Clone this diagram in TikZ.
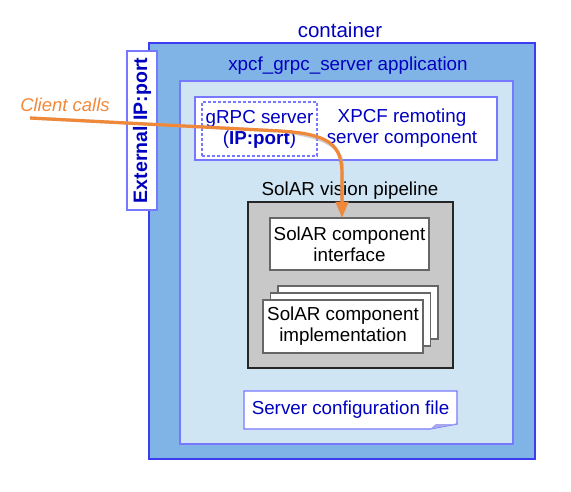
\documentclass[tikz,border=0pt]{standalone}
\usepackage{fontspec}
\setmainfont{Liberation Sans}
\usetikzlibrary{arrows.meta}
\definecolor{contfill}{HTML}{80B4E6}
\definecolor{contline}{HTML}{3C3CF0}
\definecolor{appfill}{HTML}{CFE5F4}
\definecolor{appline}{HTML}{7878FF}
\definecolor{dblue}{HTML}{0000C0}
\definecolor{pipefill}{HTML}{C8C8C8}
\definecolor{orng}{HTML}{F0883A}
\definecolor{foldc}{HTML}{A8A8F0}
\tikzset{
  base/.style={inner sep=0pt, outer sep=0pt, align=center, font=\fontsize{18.8}{21}\selectfont},
  contbox/.style={base, draw=contline, fill=contfill, line width=1.1pt},
  appbox/.style={base, draw=appline, fill=appfill, line width=1.6pt},
  whitebox/.style={base, draw=appline, fill=white, line width=1.3pt, text=dblue},
  dashbox/.style={base, draw=appline, dash pattern=on 3pt off 2pt, line width=1.4pt, text=dblue},
  pipebox/.style={base, draw=black!85, fill=pipefill, line width=1.2pt},
  compbox/.style={base, draw=black!60, fill=white, line width=1.2pt},
  title/.style={base, text=dblue},
  calls/.style={draw=orng, line width=3.2pt, -{Triangle[length=16pt,width=12pt]}},
  callshadow/.style={draw=black!30, opacity=0.6, line width=3.2pt, -{Triangle[length=16pt,width=12pt]}},
}
\begin{document}
\begin{tikzpicture}[x=1pt,y=-1pt]
\useasboundingbox (0,0) rectangle (571,492);
% container
\node[contbox, minimum width=386pt, minimum height=416pt] (cont) at (342,251) {};
\node[title, font=\fontsize{20.5}{24}\selectfont] (contlbl) at (340,30) {container};
% application
\node[appbox, minimum width=333pt, minimum height=363pt] (app) at (346.5,262.5) {};
\node[title] (applbl) at (348,66) {xpcf\_grpc\_server application};
% external IP:port
\node[whitebox, rotate=90, minimum width=159pt, minimum height=30pt, font=\bfseries\fontsize{19.5}{21}\selectfont] (ext) at (142,130.5) {External IP:port};
% XPCF remoting
\node[whitebox, minimum width=302pt, minimum height=63pt] (xpcf) at (346,128.5) {};
\node[title] (xpcflbl) at (402,128) {XPCF remoting\\server component};
\node[dashbox, minimum width=115pt, minimum height=54pt] (grpc) at (259.5,129) {gRPC server\\(\textbf{IP:port})};
% pipeline
\node[base] (pipelbl) at (350,191) {SolAR vision pipeline};
\node[pipebox, minimum width=205pt, minimum height=166pt] (pipe) at (350.5,285) {};
\node[compbox, minimum width=159pt, minimum height=52pt] (ifc) at (349.5,244) {SolAR component\\interface};
\node[compbox, minimum width=160pt, minimum height=53pt] (impl3) at (358,312.5) {};
\node[compbox, minimum width=160pt, minimum height=53pt] (impl2) at (350.5,319.5) {};
\node[compbox, minimum width=160pt, minimum height=53pt] (impl) at (343,326.5) {SolAR component\\implementation};
% config file
\node[base, minimum width=213pt, minimum height=38pt, text=dblue] (cfg) at (350.5,410) {};
\draw[draw=appline, fill=white, line width=1.2pt] (cfg.north west) -- (cfg.north east) -- ([yshift=5pt]cfg.south east) -- ([xshift=-27pt]cfg.south east) -- (cfg.south west) -- cycle;
\fill[foldc] ([xshift=-27pt]cfg.south east) -- ([xshift=-21pt,yshift=5pt]cfg.south east) -- ([yshift=5pt]cfg.south east) -- cycle;
\node[title] (cfglbl) at (cfg.center) {Server configuration file};
% client calls
\node[base, text=orng, font=\itshape\fontsize{18.5}{21}\selectfont] (callslbl) at (65,105) {Client calls};
\coordinate (cstart) at (30,118);
\coordinate (cmid) at (280,131);
\coordinate (cbend) at (342,175);
\begin{scope}[xshift=3pt, yshift=-4pt]
\draw[callshadow] (cstart) -- (cmid) .. controls (330,134) and (342,145) .. (cbend) -- (ifc.north -| cbend);
\end{scope}
\draw[calls] (cstart) -- (cmid) .. controls (330,134) and (342,145) .. (cbend) -- (ifc.north -| cbend);
\end{tikzpicture}
\end{document}
